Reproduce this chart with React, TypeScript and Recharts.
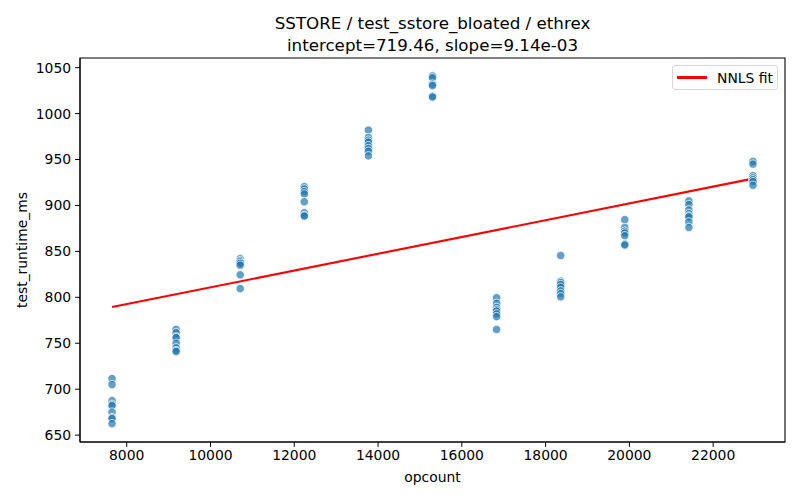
import { ComposedChart, Line, ReferenceArea, Scatter, XAxis, YAxis } from 'recharts'

// opcount per benchmark run group, runtimes
const opcounts = [7650, 9180, 10710, 12240, 13770, 15300, 16830, 18360, 19890, 21420, 22950]
const runtimes = [
  [711.5, 705, 687.5, 683.5, 682, 675, 669, 668, 662.5],
  [765, 761.5, 757, 756, 750, 745, 742, 741],
  [842, 840, 838.5, 837, 835, 824.5, 809.5],
  [920.5, 918, 915, 912.5, 904, 892, 889, 888.5],
  [982, 974, 971, 969, 965, 962, 959, 954],
  [1041, 1039, 1032, 1030.5, 1019, 1018],
  [799.5, 793.5, 789, 786.5, 785, 782, 779, 765],
  [845.5, 817.5, 816, 814, 811, 807, 804, 800.5],
  [884.5, 876, 872, 870, 867, 858, 857],
  [905, 901, 895, 891, 888.5, 887.5, 882, 876],
  [948, 945, 932.5, 930, 928, 926, 922],
]

// NNLS fit endpoints (intercept=719.46, slope=9.14e-03)
const fitX = [7650, 22950]
const fitY = [789.4, 929.2]

const xTicks = [8000, 10000, 12000, 14000, 16000, 18000, 20000, 22000]
const yTicks = [650, 700, 750, 800, 850, 900, 950, 1000, 1050]
const xDomain = [6885, 23715]
const yDomain = [642.5, 1060.5]

const FONT = '"DejaVu Sans", sans-serif'

const points = opcounts.flatMap((x, i) => runtimes[i].map(y => ({ x, y })))
const fitData = fitX.map((x, i) => ({ x, y: fitY[i] }))

const Dot = (props: any) => (
  <circle
    cx={props.cx}
    cy={props.cy}
    r={4.2}
    fill="#1f77b4"
    fillOpacity={0.7}
    stroke="#fff"
    strokeWidth={0.75}
  />
)

export default function App() {
  const tickStyle = { fill: '#000', fontSize: 13.9, fontFamily: FONT }
  return (
    <div style={{ position: 'relative', width: 800, height: 500, background: '#fff' }}>
      <style>{'body{margin:0}'}</style>
      <ComposedChart width={800} height={500} margin={{ top: 58, right: 15, bottom: 8, left: 15 }}>
        <XAxis
          dataKey="x"
          type="number"
          domain={xDomain}
          ticks={xTicks}
          height={50}
          tick={tickStyle}
          tickSize={4.9}
          tickMargin={3}
          stroke="#000"
          allowDataOverflow
        />
        <YAxis
          dataKey="y"
          type="number"
          domain={yDomain}
          ticks={yTicks}
          width={65}
          tick={tickStyle}
          tickSize={4.9}
          tickMargin={4}
          stroke="#000"
          allowDataOverflow
        />
        <ReferenceArea
          x1={xDomain[0]}
          x2={xDomain[1]}
          y1={yDomain[0]}
          y2={yDomain[1]}
          fill="none"
          stroke="#000"
          strokeWidth={1.1}
          ifOverflow="visible"
        />
        <Scatter data={points} dataKey="y" shape={<Dot />} isAnimationActive={false} />
        <Line
          data={fitData}
          dataKey="y"
          type="linear"
          stroke="#ff0000"
          strokeWidth={2.1}
          dot={false}
          activeDot={false}
          isAnimationActive={false}
        />
        <text x={432.5} y={29} textAnchor="middle" fontSize={16.7} fontFamily={FONT} fill="#000">
          SSTORE / test_sstore_bloated / ethrex
        </text>
        <text x={432.5} y={51} textAnchor="middle" fontSize={16.7} fontFamily={FONT} fill="#000">
          intercept=719.46, slope=9.14e-03
        </text>
        <text x={432.5} y={482} textAnchor="middle" fontSize={13.9} fontFamily={FONT} fill="#000">
          opcount
        </text>
        <text
          x={0}
          y={0}
          transform="translate(27 250) rotate(-90)"
          textAnchor="middle"
          fontSize={13.9}
          fontFamily={FONT}
          fill="#000"
        >
          test_runtime_ms
        </text>
      </ComposedChart>
      <div
        style={{
          position: 'absolute',
          left: 672,
          top: 65,
          width: 104,
          height: 23,
          border: '1px solid #d6d6d6',
          borderRadius: 3,
          background: 'rgba(255,255,255,0.8)',
          fontFamily: FONT,
          fontSize: 13.9,
          display: 'flex',
          alignItems: 'center',
        }}
      >
        <span style={{ display: 'inline-block', width: 30, height: 2.1, background: '#ff0000', marginLeft: 4 }} />
        <span style={{ marginLeft: 10, color: '#000' }}>NNLS fit</span>
      </div>
    </div>
  )
}
